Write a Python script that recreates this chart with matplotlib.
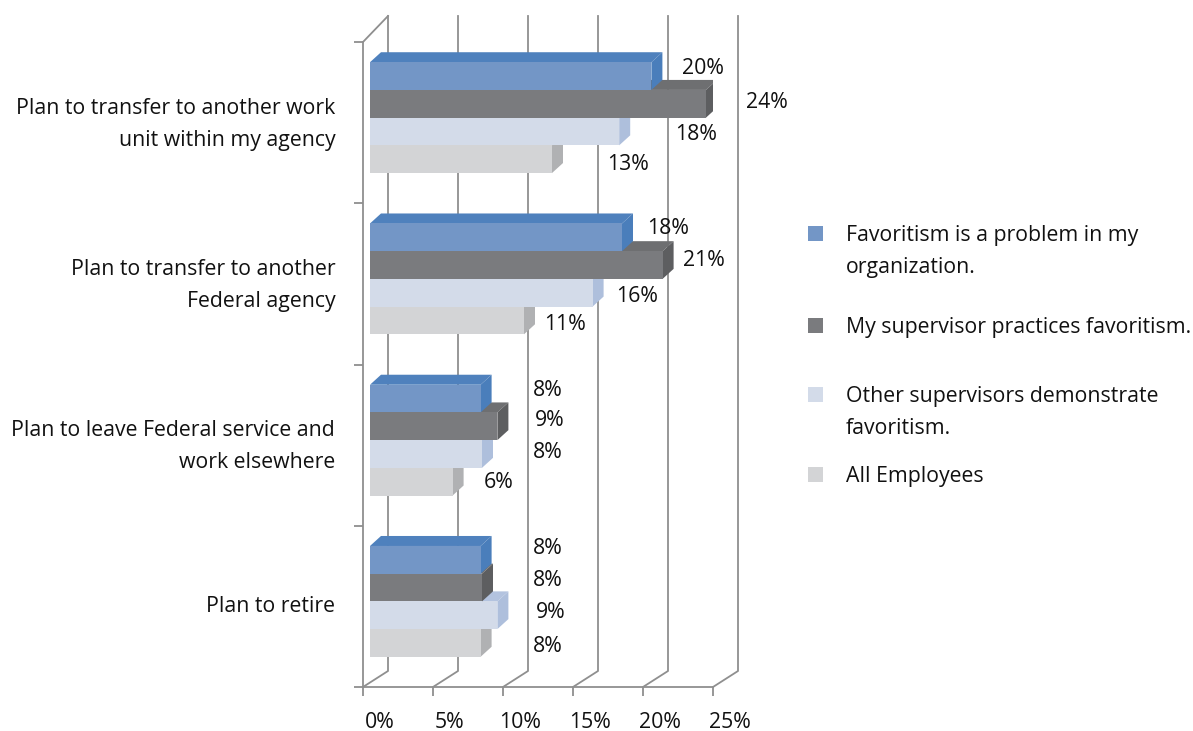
import matplotlib
matplotlib.use('Agg')
import matplotlib.pyplot as plt
from matplotlib.transforms import Affine2D, ScaledTranslation
from matplotlib.patches import Rectangle

plt.rcParams['font.family'] = ['Open Sans', 'DejaVu Sans']

#-------- data --------#
categories = ['Plan to transfer to another work\nunit within my agency',
              'Plan to transfer to another\nFederal agency',
              'Plan to leave Federal service and\nwork elsewhere',
              'Plan to retire']
favoritism_problem = [20.1, 18.0, 7.9, 7.9]
my_supervisor = [24.0, 20.9, 9.1, 8.0]
other_supervisors = [17.8, 15.9, 8.0, 9.1]
all_employees = [13.0, 11.0, 5.9, 7.9]
series = [favoritism_problem, my_supervisor, other_supervisors, all_employees]

labels_1 = ['20%', '18%', '8%', '8%']
labels_2 = ['24%', '21%', '9%', '8%']
labels_3 = ['18%', '16%', '8%', '9%']
labels_4 = ['13%', '11%', '6%', '8%']
bar_labels = [labels_1, labels_2, labels_3, labels_4]

x_ticks = [0, 5, 10, 15, 20, 25]
x_tick_labels = ['0%', '5%', '10%', '15%', '20%', '25%']

legend_names = ['Favoritism is a problem in my\norganization.',
                'My supervisor practices favoritism.',
                'Other supervisors demonstrate\nfavoritism.',
                'All Employees']

#-------- styles and layout (pixels of the 1193x731 picture) --------#
front_colors = ['#7396c6', '#7a7b7e', '#d3dbe9', '#d3d4d6']
top_colors = ['#4f81bd', '#6e6f71', '#b3c3df', '#b8b9bb']
side_colors = ['#4a7ebb', '#5d5e60', '#aebfdc', '#b0b1b3']
wall_color = '#8f8f8f'

W, H = 1193, 731
FS = 15.35
LS = 1.7
px_x = 14.0      # pixels for 1 %
px_y = 161.25    # pixels for one category
bar_h = 27.7 / px_y
bar_left = 7 / px_x
depth_x = 11 / px_x
depth_y = 10 / px_y
group_shift = -5.0 / px_y

# label centres, one list per series
label_x = [[703, 668, 548, 548], [767, 704, 550, 548],
           [696, 637, 548, 551], [628, 565, 499, 548]]
label_y = [[68, 228, 390, 549], [103, 260, 420, 581],
           [134, 296, 452, 613], [165, 325, 483, 646]]
legend_y = [233, 325, 394, 474]

fig = plt.figure(figsize=(W / 100, H / 100), dpi=100)
ax = fig.add_axes([363 / W, 1 - 687 / H, 350 / W, 645 / H])
ax.set_xlim(0, 25)
ax.set_ylim(4, 0)
px = Affine2D().scale(1 / W, -1 / H).translate(0, 1) + fig.transFigure

#-------- walls --------#
back_x = 25 / px_x
for t in x_ticks:
    ax.plot([t, t + back_x, t + back_x], [4, 4 - 16 / px_y, -26 / px_y],
            color=wall_color, lw=1.3, clip_on=False, zorder=1)
ax.plot([0, back_x], [0, -26 / px_y], color=wall_color, lw=1.3, clip_on=False, zorder=1)

#-------- bars, from the bottom of each group up --------#
for j in [3, 2, 1, 0]:
    z = 5 + (3 - j)
    y = [i + 0.5 + group_shift + (j - 1.5) * bar_h for i in range(4)]
    ax.barh(y, series[j], height=bar_h, left=bar_left, color=front_colors[j], zorder=z + 0.5)
    for yi, v in zip(y, series[j]):
        xe = bar_left + v
        ytop = yi - bar_h / 2
        ybot = yi + bar_h / 2
        ax.fill([bar_left, xe, xe + depth_x, bar_left + depth_x],
                [ytop, ytop, ytop - depth_y, ytop - depth_y],
                color=top_colors[j], lw=0, zorder=z)
        ax.fill([xe, xe + depth_x, xe + depth_x, xe],
                [ytop, ytop - depth_y, ybot - depth_y, ybot],
                color=side_colors[j], lw=0, zorder=z)

#-------- axes --------#
for s in ['top', 'right']:
    ax.spines[s].set_visible(False)
for s in ['left', 'bottom']:
    ax.spines[s].set_color(wall_color)
    ax.spines[s].set_linewidth(1.3)
ax.patch.set_alpha(0)

ax.set_yticks([0, 1, 2, 3, 4])
ax.set_yticklabels([])
ax.set_yticks([0.5, 1.5, 2.5, 3.5], minor=True)
ax.set_yticklabels(categories, minor=True, ha='right', fontsize=FS, color='#111111', linespacing=LS)
ax.tick_params(axis='y', which='major', length=6.5, width=1.3, color=wall_color)
ax.tick_params(axis='y', which='minor', length=0, pad=20)
for lab, name in zip(ax.get_yticklabels(minor=True), categories):
    # two line labels sit a little higher than the single line one
    up_px = 6.5 if '\n' in name else 2.5
    lab.set_transform(lab.get_transform() + ScaledTranslation(0, up_px / 100, fig.dpi_scale_trans))

ax.set_xticks(x_ticks)
ax.set_xticklabels(x_tick_labels, fontsize=FS, color='#111111')
ax.tick_params(axis='x', length=6.5, width=1.3, color=wall_color, pad=11.5)
shift = ScaledTranslation(12.2 / 72, 0, fig.dpi_scale_trans)
for lab in ax.get_xticklabels():
    lab.set_transform(lab.get_transform() + shift)

#-------- data labels --------#
for j in range(4):
    for i in range(4):
        fig.text(label_x[j][i], label_y[j][i], bar_labels[j][i], transform=px, ha='center',
                 va='center', fontsize=FS, color='#111111')

#-------- legend --------#
for j in range(4):
    fig.add_artist(Rectangle((808, legend_y[j] - 7.5), 15, 15, transform=px,
                             facecolor=front_colors[j], edgecolor='none'))
    fig.text(846, legend_y[j] - 8, legend_names[j], transform=px, ha='left', va='top',
             fontsize=FS, color='#111111', linespacing=LS)

fig.savefig('out.png', dpi=100)
